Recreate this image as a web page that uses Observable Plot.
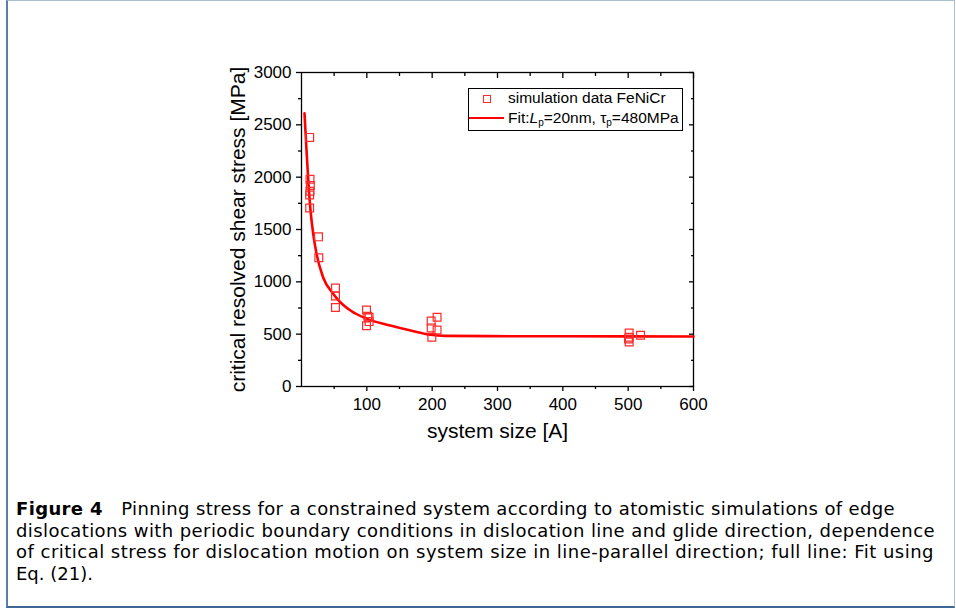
<!DOCTYPE html>
<html><head><meta charset="utf-8">
<script src="https://cdn.jsdelivr.net/npm/d3@7"></script>
<script src="https://cdn.jsdelivr.net/npm/@observablehq/plot@0.6"></script>
<style>
html,body{margin:0;padding:0;background:#fff;}
#page{position:relative;width:956px;height:609px;overflow:hidden;background:#fff;}
#border{position:absolute;left:6px;top:0;width:946px;height:605px;border-left:2px solid #5a7ea8;border-top:1px solid #a9bfd4;border-right:1px solid #a9bfd4;border-bottom:2px solid #3f6696;}
#chart{position:absolute;left:0;top:0;}
#legend{position:absolute;left:468px;top:88px;width:213px;height:41px;border:1px solid #000;background:#fff;font-family:"Liberation Sans",Arial,sans-serif;font-size:15.5px;color:#000;}
#legend .sq{position:absolute;left:14px;top:6px;width:6px;height:6px;border:1.3px solid #ff2a2a;}
#legend .ln{position:absolute;left:0px;top:28px;width:35px;height:0;border-top:2.6px solid #ff0000;}
#legend .t1{position:absolute;left:39px;top:0px;white-space:nowrap;}
#legend .t2{position:absolute;left:39px;top:20px;white-space:nowrap;}
#legend sub{font-size:10px;vertical-align:-3px;line-height:0;}
#caption{position:absolute;left:16px;top:498px;font-family:"DejaVu Sans",sans-serif;font-size:18px;line-height:21.7px;color:#000;white-space:nowrap;}
#caption div span{display:inline-block;}
#caption b{font-weight:bold;}
</style></head>
<body>
<div id="page">
<div id="border"></div>
<div id="chart"></div>
<div id="legend">
  <div class="sq"></div><div class="t1" id="lg1"></div>
  <div class="ln"></div><div class="t2" id="lg2"></div>
</div>
<div id="caption"></div>
</div>
<script>
// Simulation data (system size in A, critical resolved shear stress in MPa)
const simX = [12.5,13,13.5,13,12.5,12.5, 26,26.5, 52,52,52, 99.5,101.5,103.5,103.5,99.5, 198.5,198.5,199.5,207.5,207.5, 501.5,501.5,500.5,501.5,519];
const simY = [2380,1980,1920,1865,1830,1705, 1430,1230, 940,865,755, 730,670,660,620,580, 625,560,470,662,540, 510,470,455,425,490];
// Fit curve
const fitX = [4.6,7.7,10.7,13.8,17.9,23,33,48.5,54.6,75,100.6,136,167,197.5,220,289,400,600];
const fitY = [2610,2255,1937,1682,1459,1268,1044,886,838,726,646,583,535,494,484,481,480,478];
// Axis ticks
const ticksX = [100,200,300,400,500,600];
const minorX = [50,150,250,350,450,550];
const ticksY = [0,500,1000,1500,2000,2500,3000];
const minorY = [250,750,1250,1750,2250,2750];
const xTitle = "system size [A]";
const yTitle = "critical resolved shear stress [MPa]";
const legend1 = "simulation data FeNiCr";
const legend2 = "Fit:<i>L</i><sub>p</sub>=20nm, τ<sub>p</sub>=480MPa";
const captionLines = [
  "<b>Figure 4</b>&nbsp;&nbsp; Pinning stress for a constrained system according to atomistic simulations of edge",
  "dislocations with periodic boundary conditions in dislocation line and glide direction, dependence",
  "of critical stress for dislocation motion on system size in line-parallel direction; full line: Fit using",
  "Eq. (21)."
];
const captionWidths = [879, 919, 918, null];

const sim = simX.map((x,i)=>({x, y: simY[i]}));
const fit = fitX.map((x,i)=>({x, y: fitY[i]}));
const noText = () => "";

const chart = Plot.plot({
  width: 956, height: 460,
  marginLeft: 301, marginRight: 263, marginTop: 72, marginBottom: 74,
  x: {domain: [0, 600]},
  y: {domain: [0, 3000]},
  style: {fontFamily: "'Liberation Sans', Arial, sans-serif", color: "#000", background: "transparent"},
  marks: [
    Plot.axisY(ticksY, {tickSize: 5, tickPadding: 5, fontSize: 17, tickFormat: d => String(d), label: null, strokeWidth: 1.3}),
    Plot.axisY(minorY, {tickSize: 3, tickFormat: noText, label: null, strokeWidth: 1.3}),
    Plot.axisY(ticksY, {anchor: "right", tickSize: 5, dx: -5, tickFormat: noText, label: null, strokeWidth: 1.3}),
    Plot.axisY(minorY, {anchor: "right", tickSize: 3, dx: -3, tickFormat: noText, label: null, strokeWidth: 1.3}),
    Plot.axisX(ticksX, {tickSize: 5, tickPadding: 6, fontSize: 17, tickFormat: d => String(d), label: null, strokeWidth: 1.3}),
    Plot.axisX(minorX, {tickSize: 3, tickFormat: noText, label: null, strokeWidth: 1.3}),
    Plot.axisX(ticksX, {anchor: "top", tickSize: 5, dy: 5, tickFormat: noText, label: null, strokeWidth: 1.3}),
    Plot.axisX(minorX, {anchor: "top", tickSize: 3, dy: 3, tickFormat: noText, label: null, strokeWidth: 1.3}),
    Plot.frame({stroke: "#000", strokeWidth: 1.3}),
    Plot.line(fit, {x: "x", y: "y", stroke: "#ff0000", strokeWidth: 2.6, curve: "monotone-x"}),
    Plot.dot(sim, {x: "x", y: "y", symbol: "square", r: 4.4, stroke: "#ff2a2a", strokeWidth: 1.2, fill: "none"}),
    Plot.text([xTitle], {text: d => d, frameAnchor: "bottom", dy: 51, fontSize: 21}),
    Plot.text([yTitle], {text: d => d, frameAnchor: "left", textAnchor: "middle", dx: -63, rotate: -90, fontSize: 21})
  ]
});
document.getElementById("chart").appendChild(chart);
document.getElementById("lg1").textContent = legend1;
document.getElementById("lg2").innerHTML = legend2;
const cap = document.getElementById("caption");
cap.innerHTML = captionLines.map(l => `<div><span>${l}</span></div>`).join("");
// stretch caption lines to the justified widths of the reference
cap.querySelectorAll("div > span").forEach((s, i) => {
  const target = captionWidths[i];
  if (!target) return;
  const w = s.getBoundingClientRect().width;
  const n = s.textContent.length;
  s.style.letterSpacing = ((target - w) / n) + "px";
});
</script>
</body></html>
